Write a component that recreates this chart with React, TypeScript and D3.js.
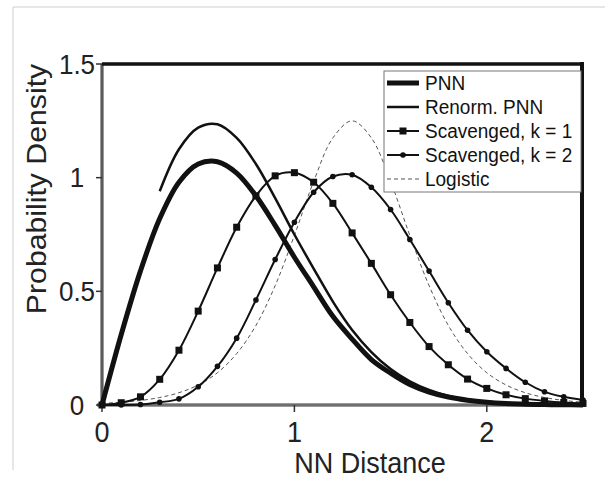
import React from 'react';
import * as d3 from 'd3';

// NN distance sampled every 0.1
const distance = [0, 0.1, 0.2, 0.3, 0.4, 0.5, 0.6, 0.7, 0.8, 0.9, 1.0, 1.1, 1.2, 1.3, 1.4, 1.5, 1.6, 1.7, 1.8, 1.9, 2.0, 2.1, 2.2, 2.3, 2.4, 2.5];
const pnn = [0, 0.31, 0.59, 0.82, 0.98, 1.06, 1.07, 1.02, 0.92, 0.79, 0.65, 0.52, 0.39, 0.29, 0.2, 0.14, 0.09, 0.057, 0.035, 0.021, 0.012, 0.0065, 0.0035, 0.0018, 0.0009, 0.0004];
// renormalized PNN starts at 0.3
const renormDistance = [0.3, 0.4, 0.5, 0.6, 0.7, 0.8, 0.9, 1.0, 1.1, 1.2, 1.3, 1.4, 1.5, 1.6, 1.7, 1.8, 1.9, 2.0, 2.1, 2.2, 2.3, 2.4, 2.5];
const renormPnn = [0.94, 1.125, 1.22, 1.235, 1.175, 1.06, 0.91, 0.75, 0.6, 0.455, 0.33, 0.233, 0.158, 0.104, 0.066, 0.04, 0.024, 0.0135, 0.0075, 0.004, 0.002, 0.001, 0.0005];
const scavK1 = [0, 0.01, 0.036, 0.113, 0.241, 0.413, 0.603, 0.782, 0.92, 1.008, 1.022, 0.98, 0.887, 0.757, 0.623, 0.485, 0.363, 0.257, 0.177, 0.114, 0.073, 0.045, 0.028, 0.018, 0.011, 0.007];
const scavK2 = [0, 0, 0.002, 0.012, 0.027, 0.08, 0.17, 0.294, 0.462, 0.64, 0.804, 0.936, 1.005, 1.013, 0.958, 0.86, 0.728, 0.589, 0.45, 0.329, 0.234, 0.161, 0.1, 0.058, 0.036, 0.022];
const logistic = [0.0075, 0.012, 0.02, 0.033, 0.054, 0.088, 0.142, 0.226, 0.35, 0.525, 0.746, 0.983, 1.175, 1.25, 1.175, 0.983, 0.746, 0.525, 0.35, 0.226, 0.142, 0.088, 0.054, 0.033, 0.02, 0.012];

const xTicks = [0, 1, 2];
const yTicks = [0, 0.5, 1, 1.5];
const legendLabels = ['PNN', 'Renorm. PNN', 'Scavenged, k = 1', 'Scavenged, k = 2', 'Logistic'];

const FONT = '"Liberation Sans", Arial, sans-serif';

export default function App() {
  const x = d3.scaleLinear().domain([0, 2.5]).range([102, 583]);
  const y = d3.scaleLinear().domain([0, 1.5]).range([405, 64]);

  const line = d3.line<[number, number]>()
    .x(d => x(d[0]))
    .y(d => y(d[1]))
    .curve(d3.curveCatmullRom);

  const pts = (xs: number[], ys: number[]) => xs.map((v, i) => [v, ys[i]] as [number, number]);

  const legendY = [90, 114, 138, 162, 186];

  return (
    <svg width={605} height={481} style={{ position: 'absolute', left: 0, top: 0, background: '#fff' }}>
      {/* page frame */}
      <line x1={13} y1={7} x2={605} y2={7} stroke="#cfcfcf" strokeWidth={1} />
      <line x1={13} y1={7} x2={13} y2={470} stroke="#cfcfcf" strokeWidth={1} />

      {/* left and bottom axes */}
      <line x1={102} y1={64} x2={102} y2={407} stroke="#9a9a9a" strokeWidth={4} />
      <line x1={102} y1={64} x2={102} y2={407} stroke="#333" strokeWidth={1.2} />
      <line x1={97} y1={405} x2={585} y2={405} stroke="#9a9a9a" strokeWidth={4} />
      <line x1={97} y1={405} x2={585} y2={405} stroke="#444" strokeWidth={1.2} />

      {yTicks.map(t => (
        <g key={'y' + t}>
          <line x1={96} x2={102} y1={y(t)} y2={y(t)} stroke="#333" strokeWidth={1.5} />
          <text transform={`translate(77,${y(t) + 9.5}) scale(1,1.08)`} textAnchor="middle"
            fontFamily={FONT} fontSize={26} fill="#222">{t}</text>
        </g>
      ))}
      {xTicks.map(t => (
        <g key={'x' + t}>
          <line x1={x(t)} x2={x(t)} y1={405} y2={412} stroke="#333" strokeWidth={1.5} />
          <text transform={`translate(${x(t)},442) scale(1,1.08)`} textAnchor="middle"
            fontFamily={FONT} fontSize={27} fill="#222">{t}</text>
        </g>
      ))}

      <text transform="translate(370,473) scale(1,1.08)" textAnchor="middle" fontFamily={FONT} fontSize={27} fill="#222">NN Distance</text>
      <text transform="translate(46,189) rotate(-90) scale(1.08,1)" textAnchor="middle" fontFamily={FONT} fontSize={28} fill="#222">Probability Density</text>

      {/* curves */}
      <path d={line(pts(distance, logistic)) || ''} fill="none" stroke="#555" strokeWidth={1} strokeDasharray="4,3" />
      <path d={line(pts(distance, scavK2)) || ''} fill="none" stroke="#111" strokeWidth={2} />
      {distance.map((v, i) => (
        <circle key={'k2' + i} cx={x(v)} cy={y(scavK2[i])} r={2.8} fill="#111" />
      ))}
      <path d={line(pts(distance, scavK1)) || ''} fill="none" stroke="#111" strokeWidth={2} />
      {distance.map((v, i) => (
        <rect key={'k1' + i} x={x(v) - 3.5} y={y(scavK1[i]) - 3.5} width={7} height={7} fill="#111" />
      ))}
      <path d={line(pts(renormDistance, renormPnn)) || ''} fill="none" stroke="#111" strokeWidth={2.5} />
      <path d={line(pts(distance, pnn)) || ''} fill="none" stroke="#111" strokeWidth={5} />

      {/* top and right frame */}
      <line x1={102} y1={64} x2={584} y2={64} stroke="#111" strokeWidth={3.5} />
      <line x1={582} y1={62} x2={582} y2={406} stroke="#111" strokeWidth={4} />

      {/* legend */}
      <rect x={384} y={71} width={197} height={121} fill="#fff" stroke="#777" strokeWidth={1} />
      {legendLabels.map((lab, i) => {
        const ly = legendY[i] - 7;
        return (
          <g key={lab}>
            {i === 0 && <line x1={387} x2={419} y1={ly} y2={ly} stroke="#111" strokeWidth={5} />}
            {i === 1 && <line x1={387} x2={419} y1={ly} y2={ly} stroke="#111" strokeWidth={2.5} />}
            {i === 2 && <>
              <line x1={387} x2={419} y1={ly} y2={ly} stroke="#111" strokeWidth={2} />
              <rect x={399.5} y={ly - 3.5} width={7} height={7} fill="#111" />
            </>}
            {i === 3 && <>
              <line x1={387} x2={419} y1={ly} y2={ly} stroke="#111" strokeWidth={2} />
              <circle cx={403} cy={ly} r={2.8} fill="#111" />
            </>}
            {i === 4 && <line x1={387} x2={419} y1={ly} y2={ly} stroke="#555" strokeWidth={1} strokeDasharray="4,3" />}
            <text transform={`translate(425,${legendY[i]}) scale(1,1.08)`} fontFamily={FONT} fontSize={19} fill="#111">{lab}</text>
          </g>
        );
      })}
    </svg>
  );
}
